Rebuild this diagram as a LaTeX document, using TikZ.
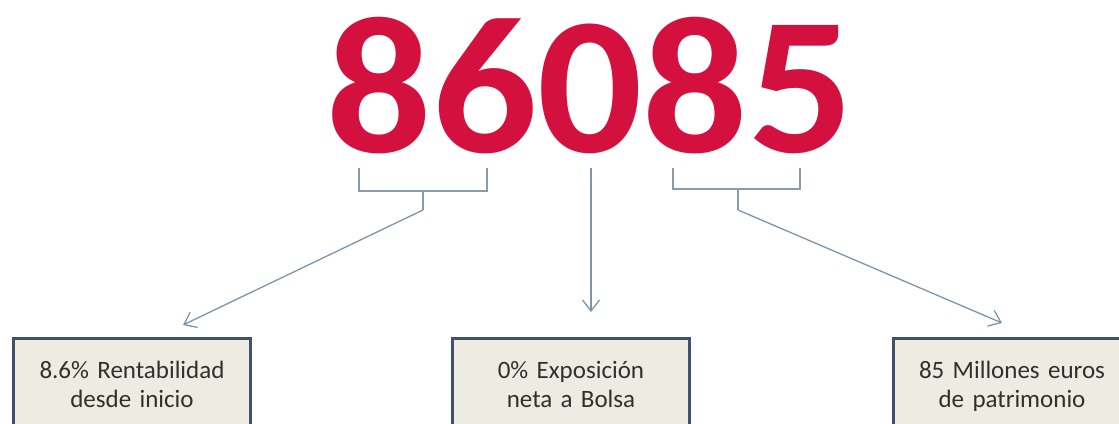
\documentclass[tikz,border=0pt]{standalone}
\usepackage{fontspec}
\setmainfont{Carlito}
\usetikzlibrary{arrows.meta,positioning}
\definecolor{numred}{RGB}{212,16,62}
\definecolor{boxfill}{RGB}{238,235,226}
\definecolor{boxline}{RGB}{62,82,110}
\definecolor{brline}{RGB}{138,155,176}
\definecolor{arline}{RGB}{124,149,174}
\definecolor{boxtext}{RGB}{48,48,48}
\begin{document}
\begin{tikzpicture}[x=1pt,y=-1pt,
  digits/.style={anchor=base,inner sep=0pt,xscale=1.06,text=numred,font=\fontsize{196}{196}\selectfont\bfseries},
  info/.style={anchor=north,draw=boxline,line width=3pt,fill=boxfill,text=boxtext,align=center,text width=237pt,inner xsep=0pt,inner ysep=4pt,text height=36pt,text depth=60pt,font=\fontsize{25}{29}\selectfont},
  bracket/.style={draw=brline,line width=2pt},
  edge/.style={draw=arline,line width=1.3pt,-{Straight Barb[length=11pt,width=17pt,line width=1.3pt]}}]
\useasboundingbox (0,0) rectangle (1119,423);
\clip (0,0) rectangle (1119,423);
\fill[white] (0,0) rectangle (1119,423);
\node(num)[digits] at (590,152){86085};
\node(rent)[info] at (132,337){8.6\% Rentabilidad\\desde inicio};
\node(expo)[info] at (571,337){0\% Exposición\\neta a Bolsa};
\node(patr)[info] at (1012,337){85 Millones euros\\de patrimonio};
\coordinate(lA) at (359,168);
\coordinate(lB) at (487,168);
\coordinate(lC) at (423,191);
\coordinate(lD) at (423,210);
\coordinate(rA) at (673,168);
\coordinate(rB) at (800,168);
\coordinate(rC) at (738,189);
\coordinate(rD) at (738,210);
\coordinate(mA) at (591,168);
\coordinate(ltip) at (183,325);
\coordinate(mtip) at (591,312);
\coordinate(rtip) at (1002,323);
\draw [bracket] (lA) |- (lC) -| (lB);
\draw [bracket] (lC) -- (lD);
\draw [bracket] (rA) |- (rC) -| (rB);
\draw [bracket] (rC) -- (rD);
\draw [edge] (lD) to (ltip);
\draw [edge] (mA) to (mtip);
\draw [edge] (rD) to (rtip);
\end{tikzpicture}
\end{document}
